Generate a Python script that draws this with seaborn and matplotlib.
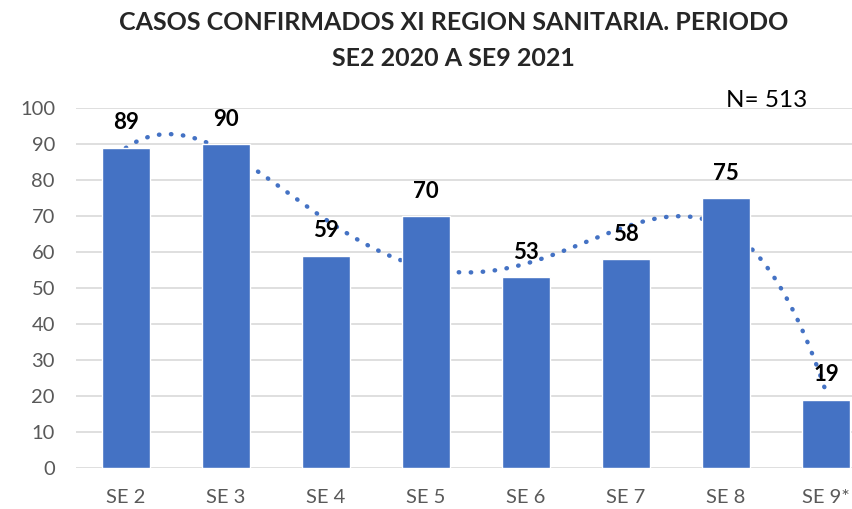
import numpy as np
import pandas as pd
import matplotlib
matplotlib.use("Agg")
import matplotlib.pyplot as plt
import seaborn as sns

# -----------------------------------------------------
# DATA
# -----------------------------------------------------

semanas = ["SE 2", "SE 3", "SE 4", "SE 5", "SE 6", "SE 7", "SE 8", "SE 9*"]
casos = [89, 90, 59, 70, 53, 58, 75, 19]
total_n = 513

df = pd.DataFrame({"Semana": semanas, "Casos": casos})

# -----------------------------------------------------
# PLOT
# -----------------------------------------------------

sns.set_theme(style="white")
plt.rcParams["font.family"] = ["Lato", "DejaVu Sans"]

fig = plt.figure(figsize=(8.52, 5.09), dpi=100)
ax = fig.add_axes([0.089, 0.08, 0.911, 0.708])

bar_color = "#4472C4"
sns.barplot(data=df, x="Semana", y="Casos", color=bar_color, width=0.48,
            saturation=1, ax=ax, zorder=3)

# polynomial trendline, drawn behind the bars like in the original
x = np.arange(len(casos))
coef = np.polyfit(x, casos, 4)
xs = np.linspace(0, len(casos) - 1, 300)
ax.plot(xs, np.polyval(coef, xs), linestyle=(0, (0.1, 2.6)), color=bar_color,
        linewidth=3.2, dash_capstyle="round", zorder=2)

for i, v in enumerate(casos):
    ax.text(i, v + 4, str(v), ha="center", va="bottom", fontsize=16,
            fontweight="bold", color="black", zorder=4)

ax.set_ylim(0, 100)
ax.set_xlim(-0.5, 7.26)
ax.set_yticks(range(0, 101, 10))
ax.yaxis.grid(True, color="#d9d9d9", linewidth=1.2, zorder=0)
ax.set_axisbelow(True)
for s in ax.spines.values():
    s.set_visible(False)
ax.tick_params(axis="both", length=0, labelsize=14.5, colors="#595959")
ax.tick_params(axis="x", pad=15)
ax.tick_params(axis="y", pad=15)
ax.set_xlabel("")
ax.set_ylabel("")

fig.text(0.532, 0.955, "CASOS CONFIRMADOS XI REGION SANITARIA. PERIODO",
         ha="center", va="center", fontsize=18, fontweight="bold")
fig.text(0.532, 0.885, "SE2 2020 A SE9 2021",
         ha="center", va="center", fontsize=18, fontweight="bold")
ax.text(6.41, 99.2, f"N= {total_n}", ha="center", va="bottom", fontsize=17.5,
        color="black")

plt.savefig("out.png", dpi=100)
plt.close()
